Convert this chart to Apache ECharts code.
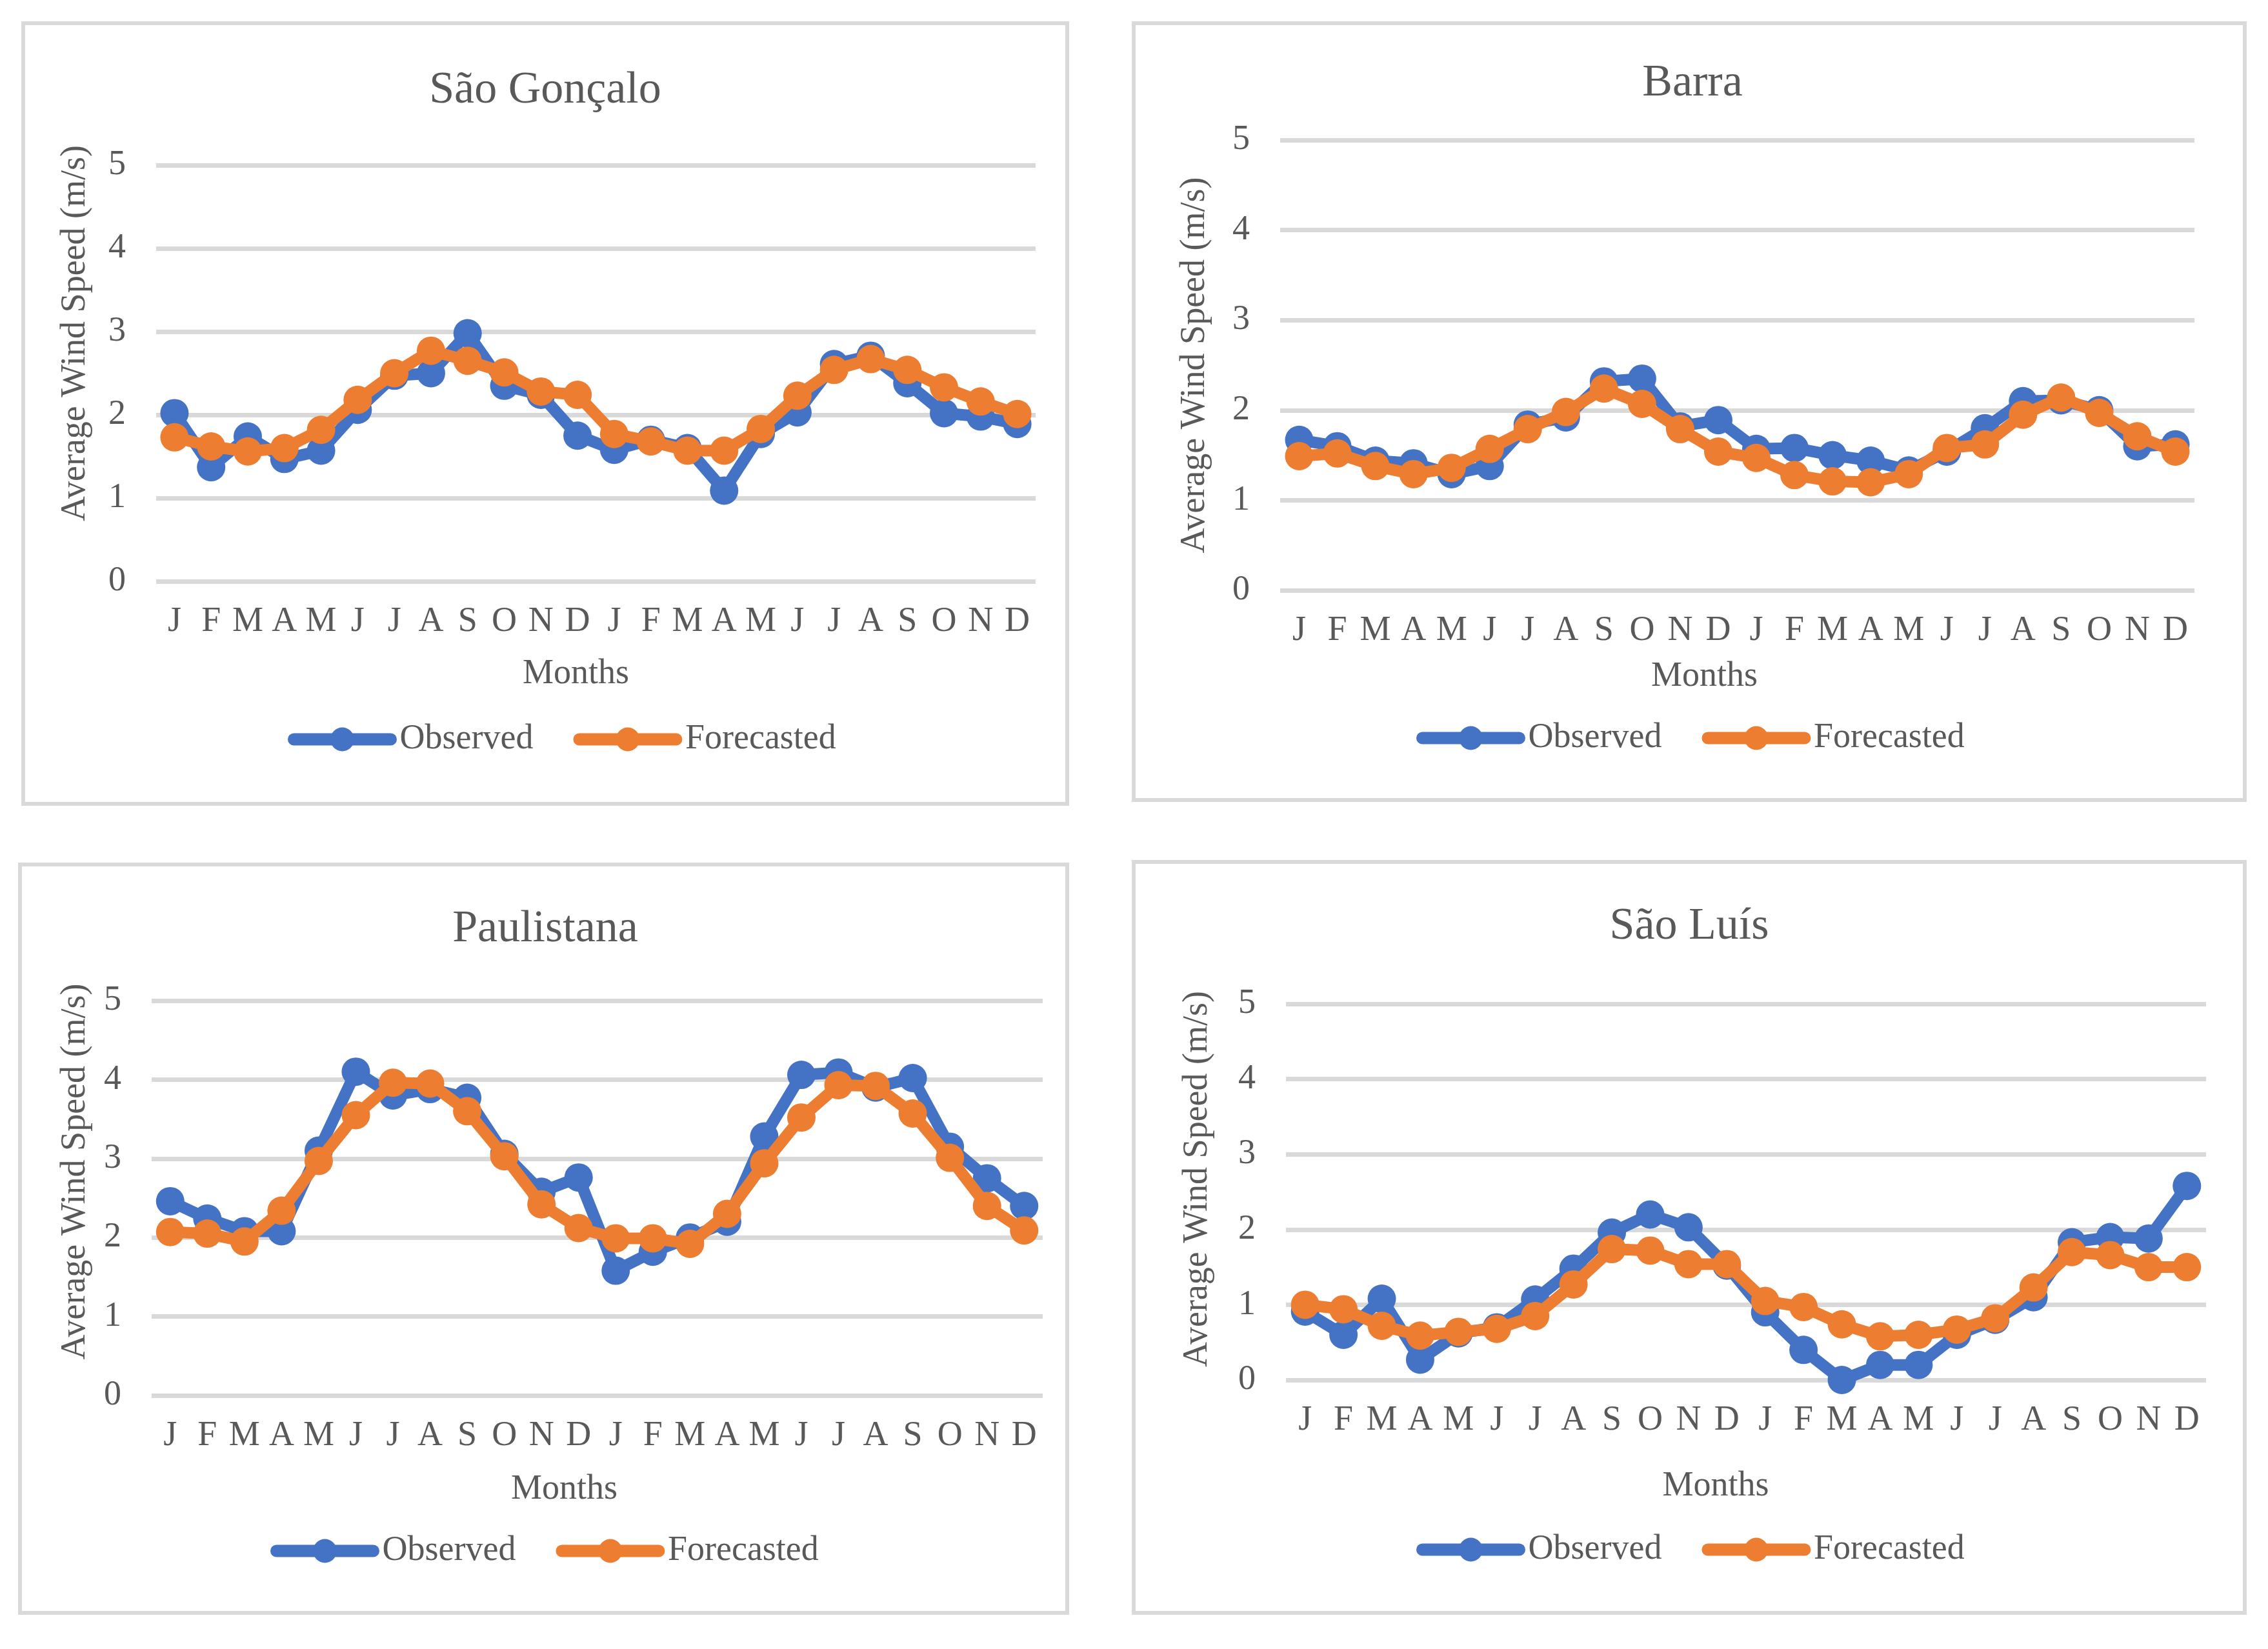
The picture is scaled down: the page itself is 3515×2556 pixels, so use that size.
<!DOCTYPE html>
<html>
<head>
<meta charset="utf-8">
<script src="https://cdn.jsdelivr.net/npm/echarts@6/dist/echarts.min.js"></script>
<style>
  html, body { margin: 0; padding: 0; background: #fff; }
  #chart { width: 3515px; height: 2556px; }
</style>
</head>
<body>
<div id="chart"></div>
<script>
// month letters, two years
var months = ['J','F','M','A','M','J','J','A','S','O','N','D','J','F','M','A','M','J','J','A','S','O','N','D'];
var stations = ['São Gonçalo', 'Barra', 'Paulistana', 'São Luís'];
var seriesNames = ['Observed', 'Forecasted'];

// average wind speed (m/s)
var saoGoncaloObs = [2.02,1.37,1.74,1.47,1.57,2.06,2.47,2.5,2.98,2.35,2.24,1.75,1.58,1.7,1.6,1.09,1.77,2.03,2.61,2.71,2.38,2.02,1.98,1.89];
var saoGoncaloFc  = [1.73,1.62,1.56,1.6,1.82,2.18,2.5,2.77,2.65,2.51,2.28,2.24,1.77,1.68,1.57,1.57,1.83,2.23,2.54,2.67,2.54,2.33,2.16,2.01];
var barraObs = [1.67,1.6,1.44,1.41,1.29,1.38,1.84,1.92,2.32,2.35,1.82,1.89,1.57,1.58,1.5,1.44,1.33,1.54,1.8,2.1,2.11,2.0,1.6,1.62];
var barraFc  = [1.49,1.52,1.38,1.29,1.36,1.57,1.79,1.98,2.24,2.07,1.79,1.54,1.47,1.28,1.21,1.2,1.29,1.58,1.62,1.95,2.14,1.97,1.71,1.54];
var paulistanaObs = [2.46,2.24,2.08,2.08,3.1,4.1,3.8,3.88,3.77,3.06,2.58,2.76,1.58,1.82,2.0,2.2,3.28,4.06,4.09,3.9,4.02,3.15,2.75,2.4];
var paulistanaFc  = [2.07,2.05,1.95,2.34,2.97,3.55,3.96,3.95,3.6,3.03,2.42,2.12,1.99,1.99,1.92,2.3,2.94,3.52,3.93,3.92,3.57,3.01,2.4,2.09];
var saoLuisObs = [0.91,0.6,1.08,0.27,0.62,0.7,1.07,1.48,1.96,2.2,2.03,1.52,0.9,0.4,0.0,0.2,0.2,0.6,0.8,1.1,1.83,1.9,1.88,2.58];
var saoLuisFc  = [1.0,0.94,0.72,0.59,0.64,0.68,0.85,1.27,1.74,1.72,1.54,1.54,1.05,0.97,0.74,0.58,0.6,0.67,0.82,1.23,1.7,1.66,1.5,1.5];

var obsData = [saoGoncaloObs, barraObs, paulistanaObs, saoLuisObs];
var fcData = [saoGoncaloFc, barraFc, paulistanaFc, saoLuisFc];

// panel layout (pixels)
var layout = [
  { box: [36, 36, 1618, 1210], grid: [242, 256, 1363, 645], title: [845, 141], monthsGap: 117, monthsShift: 62, nameGap: 98, nameShift: 124, legend: [441, 1137] },
  { box: [1757, 36, 1722, 1204], grid: [1984, 217, 1417, 698], title: [2623, 130], monthsGap: 107, monthsShift: 102, nameGap: 105, nameShift: 0, legend: [2190, 1135] },
  { box: [31, 1340, 1623, 1160], grid: [235, 1551, 1381, 612], title: [845, 1441], monthsGap: 119, monthsShift: 102, nameGap: 91, nameShift: 82, legend: [414, 2395] },
  { box: [1757, 1336, 1722, 1164], grid: [1993, 1556, 1426, 583], title: [2618, 1437], monthsGap: 138, monthsShift: 94, nameGap: 110, nameShift: 40, legend: [2190, 2393] }
];

var font = 'Liberation Serif';
var textColor = '#595959';
var colors = ['#4472C4', '#ED7D31'];

var grids = [], xAxes = [], yAxes = [], series = [], legends = [], graphics = [];

layout.forEach(function (p, i) {
  graphics.push({
    type: 'rect', z: -1,
    shape: { x: p.box[0], y: p.box[1], width: p.box[2], height: p.box[3] },
    style: { fill: '#fff', stroke: '#d9d9d9', lineWidth: 6 }
  });
  graphics.push({
    type: 'text', x: p.title[0], y: p.title[1],
    style: { text: stations[i], font: '70px "' + font + '"', fill: textColor, align: 'center', verticalAlign: 'middle', textAlign: 'center', textVerticalAlign: 'middle' }
  });

  grids.push({ left: p.grid[0], top: p.grid[1], width: p.grid[2], height: p.grid[3] });

  xAxes.push({
    type: 'category', gridIndex: i, data: months, boundaryGap: true,
    axisLine: { show: false }, axisTick: { show: false },
    axisLabel: { interval: 0, margin: 36, fontFamily: font, fontSize: 54, color: textColor },
    name: 'Months', nameLocation: 'middle', nameGap: p.monthsGap,
    nameTextStyle: { fontFamily: font, fontSize: 54, color: textColor, padding: [0, p.monthsShift, 0, 0] }
  });

  yAxes.push({
    type: 'value', gridIndex: i, min: 0, max: 5, interval: 1,
    axisLine: { show: false }, axisTick: { show: false },
    axisLabel: { margin: 47, fontFamily: font, fontSize: 54, color: textColor },
    splitLine: { lineStyle: { color: '#d9d9d9', width: 7 } },
    name: 'Average Wind Speed (m/s)', nameLocation: 'middle', nameGap: p.nameGap, nameRotate: 90,
    nameTextStyle: { fontFamily: font, fontSize: 54, color: textColor, padding: [0, 0, 0, p.nameShift] }
  });

  [obsData[i], fcData[i]].forEach(function (vals, k) {
    series.push({
      name: seriesNames[k], type: 'line', xAxisIndex: i, yAxisIndex: i,
      data: vals, symbol: 'circle', symbolSize: 44, showSymbol: true,
      lineStyle: { color: colors[k], width: 18, cap: 'round', join: 'round' },
      itemStyle: { color: colors[k] },
      z: 2 + k
    });
  });

  legends.push({
    data: seriesNames, left: p.legend[0], top: p.legend[1] - 23,
    itemWidth: 150, itemHeight: 46, itemGap: 62,
    lineStyle: { width: 19, cap: 'round' },
    textStyle: { fontFamily: font, fontSize: 54, color: textColor, padding: [0, 0, 0, 9] },
    selectedMode: false
  });
});

var myChart = echarts.init(document.getElementById('chart'));
myChart.setOption({
  backgroundColor: '#fff',
  animation: false,
  color: colors,
  graphic: graphics,
  grid: grids,
  xAxis: xAxes,
  yAxis: yAxes,
  legend: legends,
  series: series
});
</script>
</body>
</html>
